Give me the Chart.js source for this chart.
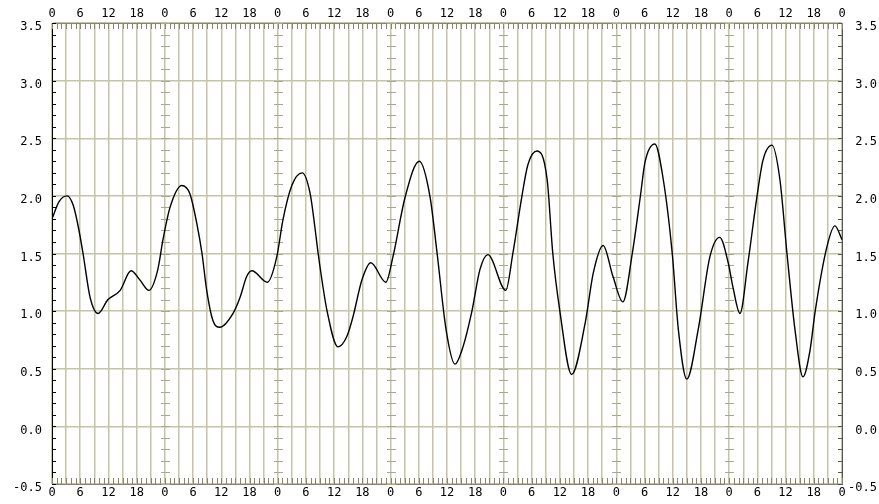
<!DOCTYPE html>
<html>
<head>
<meta charset="utf-8">
<script src="https://cdn.jsdelivr.net/npm/chart.js@4/dist/chart.umd.min.js"></script>
<style>
    body { margin: 0; background: #fff; }
    #tideChart { display: block; }
</style>
</head>
<body>
<canvas id="tideChart" width="879" height="504"></canvas>
<script>
// hours since start of the week, and water level read at those hours
var hours = [0, 1.5, 3.2, 4.5, 5.6, 6.6, 8.1, 9.8, 11.9, 14.5, 16.8, 18.7, 20.6, 22.5, 23.6,
    25.1, 27.6, 29.3, 30.8, 31.9, 32.9, 34.2, 35.7, 38.5, 40, 41.4, 42.5, 45.8, 47.8,
    49.1, 51, 53.2, 54.9, 55.9, 56.6, 58.5, 60.8, 62.7, 64, 65.9, 67.8, 71, 72.5,
    75.1, 78.1, 80.4, 81.9, 83.8, 85.7, 87.4, 89.3, 91, 92.7, 96.5, 98,
    99.9, 101.2, 103.1, 105.3, 106.5, 108, 110.5, 113.4, 115.1, 117.2, 119.3, 121.4, 123.4,
    125.1, 126.1, 128.2, 130, 131.9, 133.2, 135, 137.5, 139.9, 142, 143.8, 144.8, 146.3, 148,
    149.9, 151.2, 153.1, 154.8, 156.3, 158, 159.7, 161.2, 162.3, 164.8, 166.5, 168];
var levels = [1.80, 1.95, 2.00, 1.92, 1.73, 1.50, 1.12, 0.98, 1.10, 1.18, 1.35, 1.27, 1.18, 1.36, 1.62,
    1.90, 2.09, 2.02, 1.76, 1.50, 1.18, 0.92, 0.86, 0.98, 1.12, 1.30, 1.35, 1.25, 1.47,
    1.79, 2.09, 2.20, 2.02, 1.73, 1.50, 1.00, 0.69, 0.78, 0.95, 1.27, 1.42, 1.25, 1.47,
    1.99, 2.30, 1.99, 1.50, 0.84, 0.54, 0.69, 1.00, 1.36, 1.49, 1.18, 1.50,
    1.99, 2.27, 2.39, 2.14, 1.50, 1.00, 0.45, 0.90, 1.33, 1.57, 1.30, 1.08, 1.50,
    1.99, 2.29, 2.45, 2.14, 1.50, 0.84, 0.41, 0.86, 1.47, 1.64, 1.42, 1.21, 0.98, 1.42,
    1.99, 2.31, 2.44, 2.14, 1.50, 0.84, 0.43, 0.66, 1.00, 1.56, 1.74, 1.62];

var gridColor = '#c4c4a6';
var edgeColor = '#858570';
var labelFont = { family: 'DejaVu Sans Mono', size: 12 };

var points = hours.map(function (h, i) {
    return { x: h, y: levels[i] };
});

function hourLabel(value) {
    return value % 6 === 0 ? String(value % 24) : '';
}

// short inward tick marks along the frame and on the day lines
var minorTicks = {
    id: 'minorTicks',
    beforeDatasetsDraw: function (chart) {
        var ctx = chart.ctx;
        var area = chart.chartArea;
        var xs = chart.scales.x;
        var ys = chart.scales.y;
        ctx.save();
        ctx.lineWidth = 1;

        ctx.strokeStyle = edgeColor;
        ctx.beginPath();
        for (var h = 0; h <= 168; h++) {
            var px = Math.round(xs.getPixelForValue(h)) + 0.5;
            ctx.moveTo(px, area.top);
            ctx.lineTo(px, area.top + 6);
            ctx.moveTo(px, area.bottom);
            ctx.lineTo(px, area.bottom - 6);
        }
        ctx.stroke();

        for (var k = -5; k <= 35; k++) {
            var py = Math.round(ys.getPixelForValue(k / 10)) + 0.5;
            ctx.strokeStyle = '#000';
            ctx.beginPath();
            ctx.moveTo(area.left, py);
            ctx.lineTo(area.left + 4, py);
            ctx.stroke();
            ctx.strokeStyle = '#555';
            ctx.beginPath();
            ctx.moveTo(area.right, py);
            ctx.lineTo(area.right - 4, py);
            ctx.stroke();
            ctx.strokeStyle = '#a8a890';
            ctx.beginPath();
            for (var d = 24; d < 168; d += 24) {
                var dx = Math.round(xs.getPixelForValue(d));
                ctx.moveTo(dx - 4, py);
                ctx.lineTo(dx + 5, py);
            }
            ctx.stroke();
        }
        ctx.restore();
    }
};

var ctx = document.getElementById('tideChart').getContext('2d');
var tideChart = new Chart(ctx, {
    type: 'line',
    data: {
        datasets: [{
            data: points,
            borderColor: '#000',
            borderWidth: 1.4,
            pointRadius: 0,
            fill: false,
            cubicInterpolationMode: 'monotone'
        }]
    },
    options: {
        responsive: false,
        animation: false,
        layout: { padding: { left: 0, right: 2, top: 0, bottom: 0 } },
        plugins: {
            legend: { display: false },
            tooltip: { enabled: false }
        },
        scales: {
            x: {
                type: 'linear',
                position: 'bottom',
                min: 0,
                max: 168,
                afterFit: function (scale) { scale.height = 20; },
                ticks: {
                    stepSize: 3,
                    autoSkip: false,
                    maxRotation: 0,
                    padding: 2,
                    color: '#000',
                    font: labelFont,
                    callback: hourLabel
                },
                grid: { color: gridColor, lineWidth: 1.5, drawTicks: false },
                border: { color: edgeColor }
            },
            x2: {
                type: 'linear',
                position: 'top',
                min: 0,
                max: 168,
                afterFit: function (scale) { scale.height = 23; },
                ticks: {
                    stepSize: 6,
                    autoSkip: false,
                    maxRotation: 0,
                    padding: 2,
                    color: '#000',
                    font: labelFont,
                    callback: function (value) { return String(value % 24); }
                },
                grid: { display: false, drawTicks: false },
                border: { color: edgeColor }
            },
            y: {
                position: 'left',
                min: -0.5,
                max: 3.5,
                afterFit: function (scale) { scale.width = 52; },
                ticks: {
                    stepSize: 0.5,
                    padding: 10,
                    labelOffset: 4,
                    color: '#000',
                    font: labelFont,
                    callback: function (value) { return value.toFixed(1); }
                },
                grid: { color: gridColor, lineWidth: 1.5, drawTicks: false },
                border: { color: '#000' }
            },
            y2: {
                position: 'right',
                min: -0.5,
                max: 3.5,
                afterFit: function (scale) { scale.width = 35; },
                ticks: {
                    stepSize: 0.5,
                    padding: 12,
                    crossAlign: 'far',
                    labelOffset: 4,
                    color: '#000',
                    font: labelFont,
                    callback: function (value) { return value.toFixed(1); }
                },
                grid: { display: false, drawTicks: false },
                border: { color: '#555' }
            }
        }
    },
    plugins: [minorTicks]
});
</script>
</body>
</html>
